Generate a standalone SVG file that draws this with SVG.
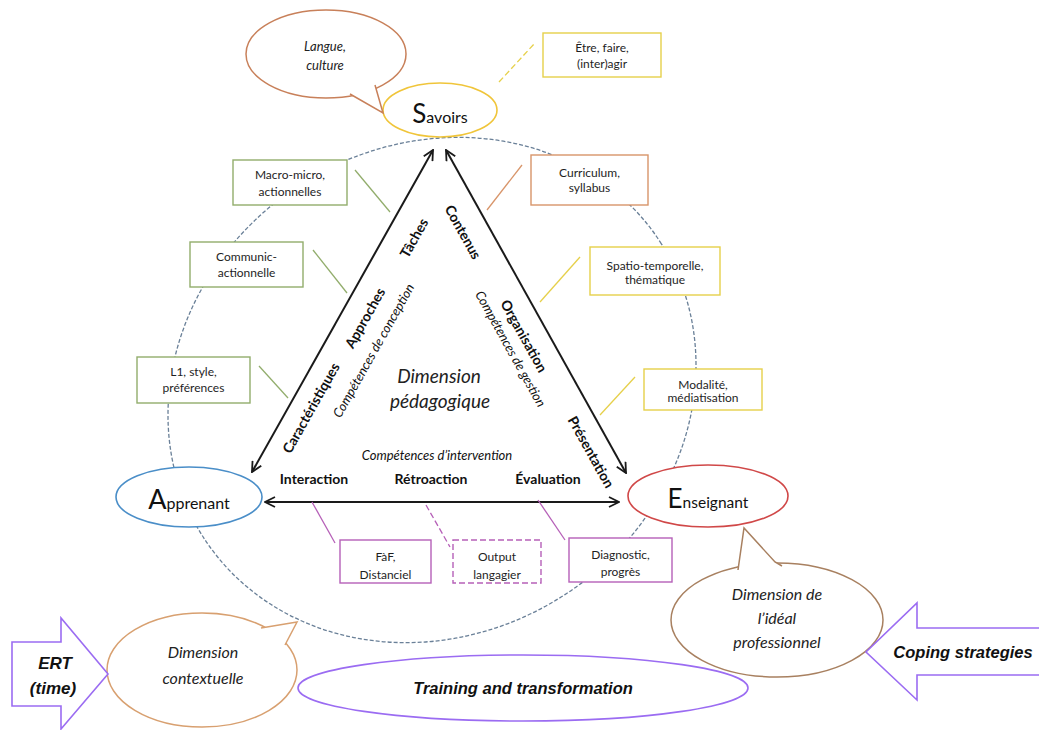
<svg xmlns="http://www.w3.org/2000/svg" width="1039" height="730" viewBox="0 0 1039 730">
  <style>
    .bg { fill: #ffffff; }
    .box { fill: #ffffff; stroke-width: 1.4; }
    .btxt { font-family: Lato, "Open Sans", sans-serif; font-size: 12px; fill: #1e1e1e; text-anchor: middle; }
    .lbl { font-family: Lato, "Open Sans", sans-serif; font-size: 14px; font-weight: bold; fill: #111; text-anchor: middle; }
    .comp { font-family: Lato, "Open Sans", sans-serif; font-size: 13px; font-style: italic; fill: #111; text-anchor: middle; }
    .dim { font-family: Lato, "Open Sans", sans-serif; font-style: italic; fill: #222; text-anchor: middle; }
    .big { font-family: Lato, "Open Sans", sans-serif; fill: #111; text-anchor: middle; }
    .bi { font-family: "Liberation Sans", Arial, sans-serif; font-weight: bold; font-style: italic; fill: #111; text-anchor: middle; }
    .tie { fill: none; stroke-width: 1.3; }
    .green { stroke: #92ad6c; }
    .yellow { stroke: #e6d04a; }
    .orange { stroke: #d8956a; }
    .purple { stroke: #b660b8; }
    .violet { fill: #ffffff; stroke: #9b6cf2; stroke-width: 1.6; }
    .axis { fill: none; stroke: #1a1a1a; stroke-width: 2; }
  </style>
  <defs>
    <marker id="head" viewBox="0 0 12 12" refX="11" refY="6" markerWidth="12" markerHeight="12" markerUnits="userSpaceOnUse" orient="auto-start-reverse">
      <path d="M1,1 L11,6 L1,11" fill="none" stroke="#1a1a1a" stroke-width="1.8"/>
    </marker>
  </defs>

  <rect class="bg" x="0" y="0" width="1039" height="730"/>

  <!-- dashed orbit around the triangle -->
  <ellipse id="orbit" cx="432" cy="390" rx="272" ry="244" transform="rotate(-33 432 390)" fill="none" stroke="#6a8098" stroke-width="1.3" stroke-dasharray="4 2"/>

  <!-- connectors -->
  <g id="connectors">
    <line class="axis" x1="252" y1="472" x2="433" y2="150" marker-start="url(#head)" marker-end="url(#head)"/>
    <line class="axis" x1="446" y1="150" x2="626" y2="473" marker-start="url(#head)" marker-end="url(#head)"/>
    <line class="axis" x1="265" y1="502" x2="619" y2="502" stroke-width="2.6" marker-start="url(#head)" marker-end="url(#head)"/>

    <line class="tie yellow" x1="499" y1="82" x2="535" y2="43" stroke-dasharray="6 3"/>
    <line class="tie green" x1="355" y1="170" x2="390" y2="212"/>
    <line class="tie green" x1="313" y1="250" x2="347" y2="293"/>
    <line class="tie green" x1="259" y1="366" x2="288" y2="398"/>
    <line class="tie orange" x1="487" y1="210" x2="522" y2="165"/>
    <line class="tie yellow" x1="540" y1="302" x2="580" y2="257"/>
    <line class="tie yellow" x1="600" y1="415" x2="635" y2="377"/>
    <line class="tie purple" x1="312" y1="502" x2="335" y2="543"/>
    <line class="tie purple" x1="426" y1="505" x2="450" y2="547" stroke-dasharray="6 3"/>
    <line class="tie purple" x1="538" y1="500" x2="565" y2="540"/>
  </g>

  <!-- triangle labels -->
  <g id="triangle-labels">
    <text class="lbl" transform="translate(414 238) rotate(-60.6)" y="5">Tâches</text>
    <text class="lbl" transform="translate(365 318) rotate(-60.6)" y="5">Approches</text>
    <text class="lbl" transform="translate(311 408) rotate(-60.6)" y="5">Caractéristiques</text>
    <text class="comp" transform="translate(374 351) rotate(-60.6)" y="4">Compétences de conception</text>

    <text class="lbl" transform="translate(463 232) rotate(60.9)" y="5">Contenus</text>
    <text class="lbl" transform="translate(524 336) rotate(60.9)" y="5">Organisation</text>
    <text class="comp" transform="translate(510 349) rotate(60.9)" y="4">Compétences de gestion</text>
    <text class="lbl" transform="translate(591 452) rotate(60.9)" y="5">Présentation</text>

    <text class="comp" x="437" y="460">Compétences d’intervention</text>
    <text class="lbl" x="314" y="484">Interaction</text>
    <text class="lbl" x="431" y="484">Rétroaction</text>
    <text class="lbl" x="548" y="484">Évaluation</text>

    <text class="dim" x="439" y="383" font-size="19">Dimension</text>
    <text class="dim" x="440" y="408" font-size="19">pédagogique</text>
  </g>

  <!-- poles -->
  <g id="savoirs">
    <ellipse cx="440" cy="110" rx="57" ry="27" fill="#fff" stroke="#f0c53a" stroke-width="1.6"/>
    <text class="big" x="440" y="123"><tspan font-size="26">S</tspan><tspan font-size="16">avoirs</tspan></text>
  </g>
  <g id="apprenant">
    <ellipse cx="189" cy="497" rx="73" ry="30" fill="#fff" stroke="#4a8ec8" stroke-width="1.6"/>
    <text class="big" x="189" y="509"><tspan font-size="27">A</tspan><tspan font-size="16">pprenant</tspan></text>
  </g>
  <g id="enseignant">
    <ellipse cx="708" cy="496" rx="80" ry="31" fill="#fff" stroke="#d04848" stroke-width="1.6"/>
    <text class="big" x="708" y="508"><tspan font-size="26">E</tspan><tspan font-size="15.5">nseignant</tspan></text>
  </g>

  <!-- satellite boxes -->
  <g id="box-etre">
    <rect class="box yellow" x="543" y="33" width="118" height="44"/>
    <text class="btxt" x="602" y="52">Être, faire,</text>
    <text class="btxt" x="602" y="68">(inter)agir</text>
  </g>
  <g id="box-macro">
    <rect class="box green" x="233" y="160" width="114" height="45"/>
    <text class="btxt" x="290" y="179">Macro-micro,</text>
    <text class="btxt" x="290" y="196">actionnelles</text>
  </g>
  <g id="box-communic">
    <rect class="box green" x="190" y="242" width="113" height="45"/>
    <text class="btxt" x="246.5" y="261">Communic-</text>
    <text class="btxt" x="246.5" y="277">actionnelle</text>
  </g>
  <g id="box-l1">
    <rect class="box green" x="137" y="357" width="113" height="46"/>
    <text class="btxt" x="193.5" y="376">L1, style,</text>
    <text class="btxt" x="193.5" y="392">préférences</text>
  </g>
  <g id="box-curriculum">
    <rect class="box orange" x="531" y="155" width="117" height="50"/>
    <text class="btxt" x="589.5" y="177">Curriculum,</text>
    <text class="btxt" x="589.5" y="192">syllabus</text>
  </g>
  <g id="box-spatio">
    <rect class="box yellow" x="590" y="247" width="130" height="48"/>
    <text class="btxt" x="655" y="270">Spatio-temporelle,</text>
    <text class="btxt" x="655" y="284">thématique</text>
  </g>
  <g id="box-modalite">
    <rect class="box yellow" x="644" y="369" width="118" height="41"/>
    <text class="btxt" x="703" y="389">Modalité,</text>
    <text class="btxt" x="703" y="402">médiatisation</text>
  </g>
  <g id="box-faf">
    <rect class="box purple" x="340" y="540" width="91" height="43"/>
    <text class="btxt" x="385.5" y="561">FàF,</text>
    <text class="btxt" x="385.5" y="579">Distanciel</text>
  </g>
  <g id="box-output">
    <rect class="box purple" x="453" y="540" width="88" height="43" stroke-dasharray="6 3"/>
    <text class="btxt" x="497" y="561">Output</text>
    <text class="btxt" x="497" y="579">langagier</text>
  </g>
  <g id="box-diagnostic">
    <rect class="box purple" x="569" y="538" width="103" height="44"/>
    <text class="btxt" x="620.5" y="559">Diagnostic,</text>
    <text class="btxt" x="620.5" y="576">progrès</text>
  </g>

  <!-- speech bubbles -->
  <g id="bubble-langue">
    <ellipse cx="326" cy="54" rx="80" ry="44" fill="#fff" stroke="#c8805a" stroke-width="1.5"/>
    <path d="M350,94 L383,113 L375,85" fill="#fff" stroke="#c8805a" stroke-width="1.5"/>
    <text class="dim" x="325" y="51" font-size="13">Langue,</text>
    <text class="dim" x="325" y="70" font-size="13">culture</text>
  </g>
  <g id="bubble-contextuelle">
    <ellipse cx="202" cy="670" rx="95" ry="57" fill="#fff" stroke="#d8a070" stroke-width="1.5"/>
    <path d="M261,628 L297,622 L285,645" fill="#fff" stroke="#d8a070" stroke-width="1.5"/>
    <text class="dim" x="203" y="658" font-size="16">Dimension</text>
    <text class="dim" x="203" y="684" font-size="16">contextuelle</text>
  </g>
  <g id="bubble-ideal">
    <ellipse cx="777" cy="620" rx="106" ry="57" fill="#fff" stroke="#a88060" stroke-width="1.5"/>
    <path d="M738,570 L744,528 L775,562 L782,566" fill="#fff" stroke="#a88060" stroke-width="1.5"/>
    <text class="dim" x="777" y="600" font-size="16">Dimension de</text>
    <text class="dim" x="777" y="624" font-size="16">l’idéal</text>
    <text class="dim" x="777" y="648" font-size="16">professionnel</text>
  </g>

  <!-- framing arrows and band -->
  <g id="arrow-ert">
    <path class="violet" d="M12,642 L61,642 L61,618 L108,674 L61,729 L61,706 L12,706 Z"/>
    <text class="bi" x="55" y="669" font-size="17">ERT</text>
    <text class="bi" x="53" y="694" font-size="17">(time)</text>
  </g>
  <g id="band-training">
    <ellipse class="violet" cx="523" cy="688" rx="225" ry="33"/>
    <text class="bi" x="523" y="694" font-size="16.5">Training and transformation</text>
  </g>
  <g id="arrow-coping">
    <path class="violet" d="M1045,628 L917,628 L917,603 L866,652 L917,700 L917,675 L1045,675"/>
    <text class="bi" x="963" y="658" font-size="16.5">Coping strategies</text>
  </g>
</svg>
